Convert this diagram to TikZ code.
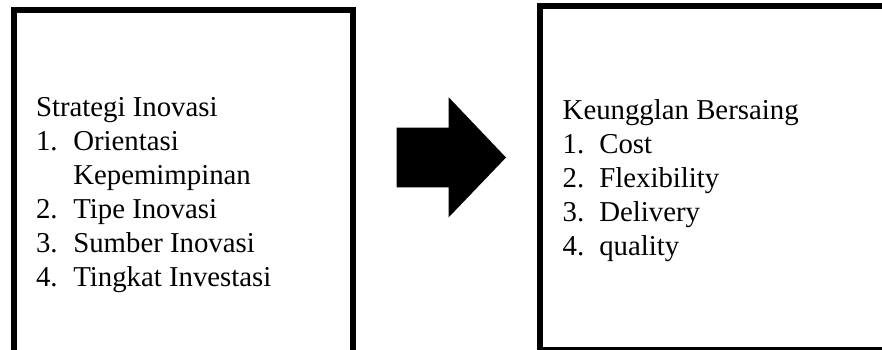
\documentclass[tikz,border=0pt]{standalone}
\usepackage{fontspec}
\setmainfont{Liberation Serif}
\begin{document}
\begin{tikzpicture}[x=1pt,y=-1pt,
  frame/.style={draw=black,line width=5.8pt,rectangle,inner sep=0pt,outer sep=0pt,anchor=north west},
  txt/.style={anchor=base west,inner sep=0pt,outer sep=0pt,font=\fontsize{28.8}{34}\selectfont},
]
\useasboundingbox (0,0) rectangle (882,349);
\clip (0,0) rectangle (882,349);

% the two frames (both run past the page edge)
\node[frame,minimum width=339pt,minimum height=360pt] (leftbox) at (14,9.7) {};
\node[frame,minimum width=360pt,minimum height=344.5pt] (rightbox) at (539.6,5.7) {};

% block arrow between the frames
\fill[black] (396.7,127.7) coordinate (a1) -- (448.7,127.7) -- (448.7,97.3)
  -- (506,157.5) -- (448.7,217.3) -- (448.7,187.3) -- (396.7,187.3) -- cycle;

% left list
\node[txt] (lhead) at (36,116) {Strategi Inovasi};
\node[txt] (ln1) at (36,150) {1.};
\node[txt] (li1) at (73.3,150) {Orientasi};
\node[txt] (li1b) at (73.3,184) {Kepemimpinan};
\node[txt] (ln2) at (36,218) {2.};
\node[txt] (li2) at (73.3,218) {Tipe Inovasi};
\node[txt] (ln3) at (36,252) {3.};
\node[txt] (li3) at (73.3,252) {Sumber Inovasi};
\node[txt] (ln4) at (36,286) {4.};
\node[txt] (li4) at (73.3,286) {Tingkat Investasi};

% right list
\node[txt] (rhead) at (562.7,119.3) {Keungglan Bersaing};
\node[txt] (rn1) at (562.7,153.3) {1.};
\node[txt] (ri1) at (599.3,153.3) {Cost};
\node[txt] (rn2) at (562.7,187.3) {2.};
\node[txt] (ri2) at (599.3,187.3) {Flexibility};
\node[txt] (rn3) at (562.7,221.3) {3.};
\node[txt] (ri3) at (599.3,221.3) {Delivery};
\node[txt] (rn4) at (562.7,255.3) {4.};
\node[txt] (ri4) at (599.3,255.3) {quality};
\end{tikzpicture}
\end{document}
